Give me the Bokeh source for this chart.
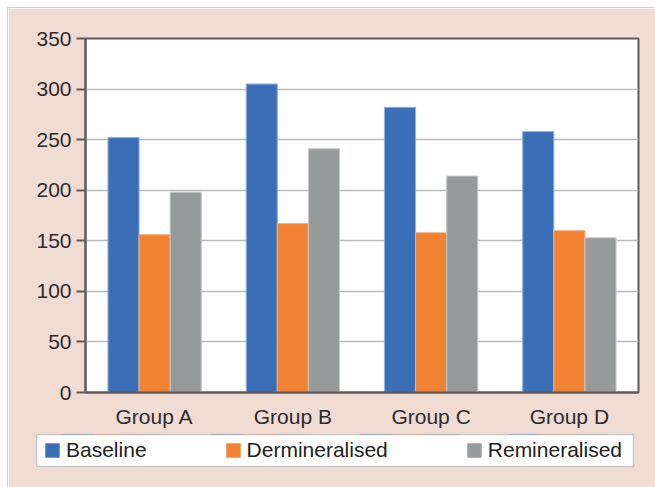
from bokeh.plotting import figure
from bokeh.models import Range1d, FactorRange, ColumnDataSource, Legend, LegendItem, SingleIntervalTicker
from bokeh.transform import dodge
from bokeh.embed import file_html
from bokeh.resources import INLINE

groups = ["Group A", "Group B", "Group C", "Group D"]
baseline = [252, 305, 282, 258]
demineralised = [156, 167, 158, 160]
remineralised = [198, 241, 214, 153]
series_names = ["Baseline", "Dermineralised", "Remineralised"]
colors = ["#3a6fb8", "#f18133", "#979a9a"]
edge_colors = ["#8fb0e0", "#f6b07e", "#c6c8c8"]

src = ColumnDataSource(dict(groups=groups, baseline=baseline,
                            demineralised=demineralised, remineralised=remineralised))

PINK = "#f1dcd4"
FONT = "Liberation Sans"
cols = ["baseline", "demineralised", "remineralised"]
offsets = [-0.225, 0.0, 0.225]

p = figure(width=647, height=422, x_range=FactorRange(factors=groups, range_padding=0),
           y_range=Range1d(0, 350), output_backend="svg", toolbar_location=None,
           min_border_left=77, min_border_right=17, min_border_top=30, min_border_bottom=32)
p.styles = {"margin-left": "8px", "margin-top": "8px", "box-shadow": "-1px -1px 0 0 #cfcfcf"}
p.background_fill_color = "white"
p.border_fill_color = PINK
p.outline_line_color = "#5e5a58"
p.outline_line_width = 2

for c, off, col, ec in zip(cols, offsets, colors, edge_colors):
    p.vbar(x=dodge("groups", off, range=p.x_range), top=c, width=0.225, source=src,
           fill_color=col, line_color=ec, line_width=1)

# axes
p.yaxis.ticker = SingleIntervalTicker(interval=50)
p.yaxis.minor_tick_line_color = None
p.yaxis.major_tick_out = 9
p.yaxis.major_tick_in = 0
p.yaxis.major_tick_line_color = "#5e5a58"
p.yaxis.major_tick_line_width = 2
p.yaxis.major_label_standoff = 5
for ax in (p.xaxis[0], p.yaxis[0]):
    ax.axis_line_color = "#5e5a58"
    ax.axis_line_width = 2
    ax.major_label_text_font = FONT
    ax.major_label_text_font_size = "21px"
    ax.major_label_text_color = "#2b2b2b"
p.xaxis.major_tick_line_color = None
p.xaxis.minor_tick_line_color = None
p.xaxis.major_label_standoff = 6

p.xgrid.grid_line_color = None
p.ygrid.grid_line_color = "#b9bcbc"
p.ygrid.grid_line_width = 1.5

# legend strip: its own figure, so the legend box may be wider than the chart frame.
# The same bars are drawn there, but its y-range lies below zero, so only the legend shows.
lg = figure(width=647, height=59, output_backend="svg", toolbar_location=None,
            x_range=FactorRange(factors=groups, range_padding=0), y_range=Range1d(-2, -1),
            x_axis_location=None, y_axis_location=None,
            min_border_left=28, min_border_right=22, min_border_top=6, min_border_bottom=21)
lg.styles = {"margin-left": "8px", "margin-top": "-2px", "box-shadow": "-1px 0 0 0 #cfcfcf"}
lg.grid.grid_line_color = None
lg.background_fill_color = "white"
lg.border_fill_color = PINK
lg.outline_line_color = "#c8c8c8"
lg.outline_line_width = 1.5
legend_renderers = []
for c, off, col in zip(cols, offsets, colors):
    r = lg.vbar(x=dodge("groups", off, range=lg.x_range), top=c, width=0.225, source=src,
                fill_color=col, line_color=None)
    legend_renderers.append(r)
items = [LegendItem(label=n, renderers=[r]) for n, r in zip(series_names, legend_renderers)]
legend = Legend(items=items, orientation="horizontal", location="center_left",
                glyph_width=18, glyph_height=18, label_standoff=5, spacing=77,
                padding=4, margin=7,
                label_text_font=FONT, label_text_font_size="21px", label_text_color="#222222",
                border_line_color=None, background_fill_alpha=0.0)
lg.add_layout(legend, "center")

open("out.html", "w").write(file_html((p, lg), INLINE))
